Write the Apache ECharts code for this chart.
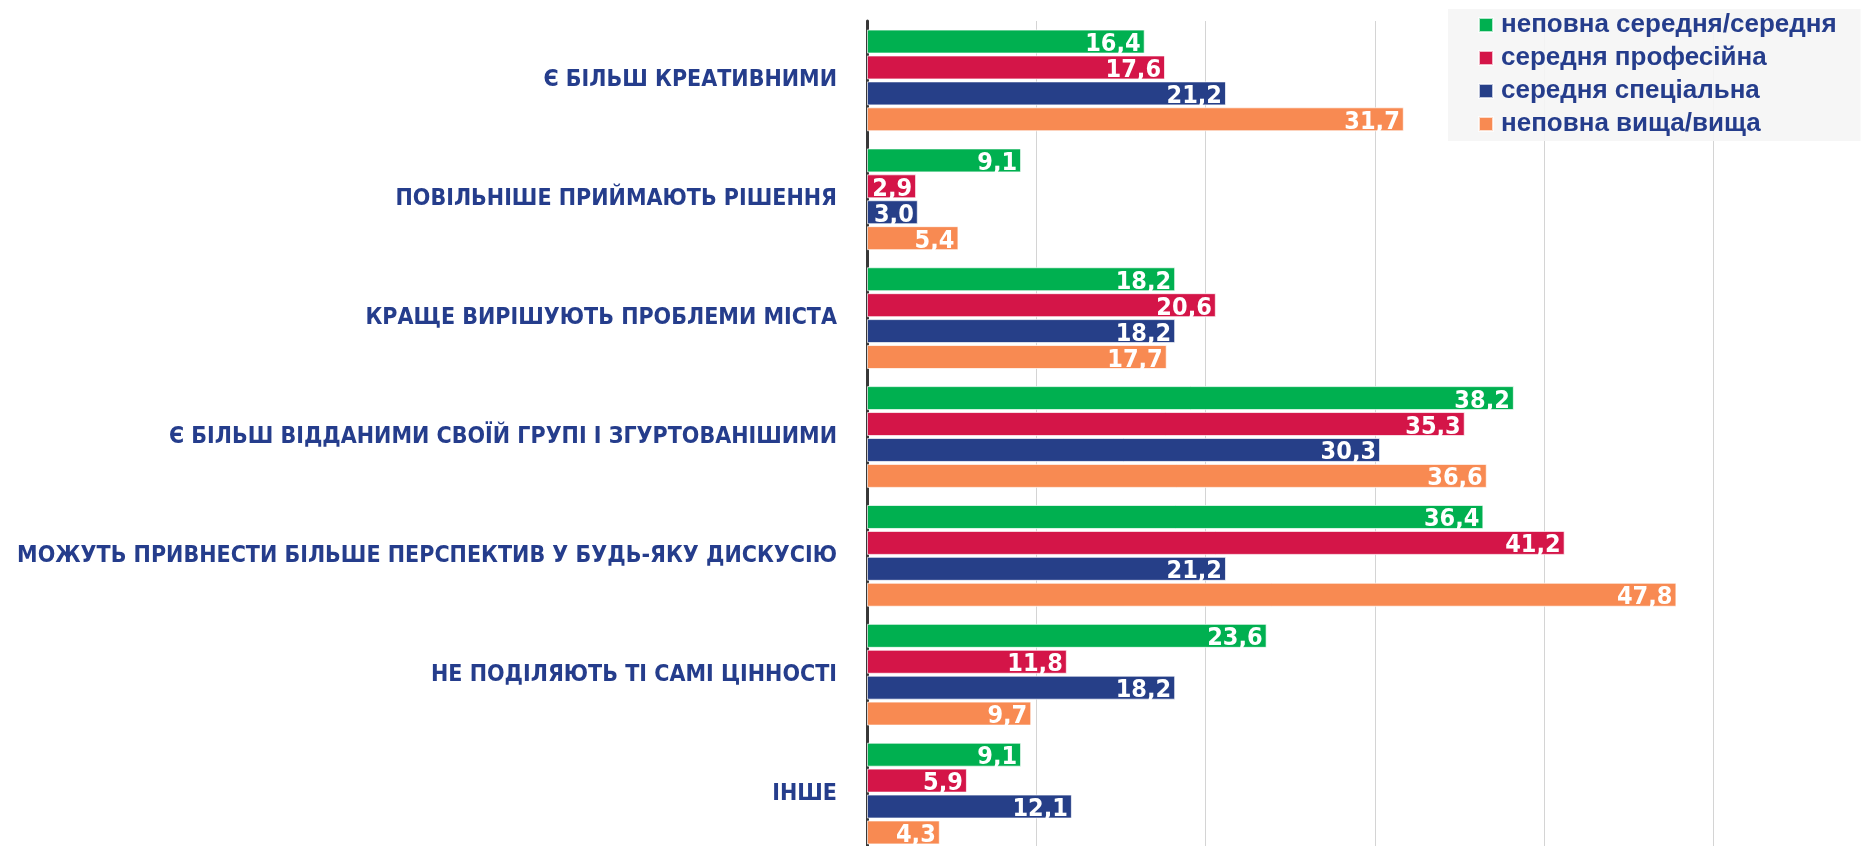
<!DOCTYPE html>
<html>
<head>
<meta charset="utf-8">
<script src="https://cdn.jsdelivr.net/npm/echarts@6/dist/echarts.min.js"></script>
<style>
  html, body { margin: 0; padding: 0; background: #fff; }
  #chart { width: 1864px; height: 846px; }
</style>
</head>
<body>
<div id="chart"></div>
<script>
// категорії (зверху вниз)
const categories = [
  'Є БІЛЬШ КРЕАТИВНИМИ',
  'ПОВІЛЬНІШЕ ПРИЙМАЮТЬ РІШЕННЯ',
  'КРАЩЕ ВИРІШУЮТЬ ПРОБЛЕМИ МІСТА',
  'Є БІЛЬШ ВІДДАНИМИ СВОЇЙ ГРУПІ І ЗГУРТОВАНІШИМИ',
  'МОЖУТЬ ПРИВНЕСТИ БІЛЬШЕ ПЕРСПЕКТИВ У БУДЬ-ЯКУ ДИСКУСІЮ',
  'НЕ ПОДІЛЯЮТЬ ТІ САМІ ЦІННОСТІ',
  'ІНШЕ'
];

const seriesNames = [
  'неповна середня/середня',
  'середня професійна',
  'середня спеціальна',
  'неповна вища/вища'
];

const incompleteSecondary = [16.4, 9.1, 18.2, 38.2, 36.4, 23.6, 9.1];
const vocational = [17.6, 2.9, 20.6, 35.3, 41.2, 11.8, 5.9];
const specialized = [21.2, 3.0, 18.2, 30.3, 21.2, 18.2, 12.1];
const higher = [31.7, 5.4, 17.7, 36.6, 47.8, 9.7, 4.3];

const colors = ['#00b050', '#d41548', '#263f88', '#f88a52'];

const narrow = "'Liberation Sans Narrow', 'DejaVu Sans Condensed', sans-serif";

const chart = echarts.init(document.getElementById('chart'));

function makeSeries(name, data, color) {
  return {
    name: name,
    type: 'bar',
    data: data,
    barWidth: 24,
    barGap: '8%',
    itemStyle: {
      color: color,
      borderColor: 'rgba(255,255,255,0.7)',
      borderWidth: 1
    },
    label: {
      show: true,
      position: 'insideRight',
      distance: 4,
      color: '#fff',
      fontFamily: narrow,
      fontWeight: 'bold',
      fontSize: 25,
      offset: [0, 3],
      formatter: p => p.value.toFixed(1).replace('.', ',')
    }
  };
}

const option = {
  backgroundColor: '#fff',
  animation: false,
  grid: {
    left: 867,
    right: -19,
    top: 21,
    bottom: -7,
    containLabel: false,
    outerBoundsMode: 'none'
  },
  legend: {
    orient: 'vertical',
    left: 1448,
    top: 9,
    padding: [3, 24, 4, 30],
    backgroundColor: 'rgba(245,245,245,0.9)',
    itemWidth: 14,
    itemHeight: 14,
    itemGap: 7,
    icon: 'rect',
    textStyle: {
      color: '#253d8c',
      fontFamily: "'Liberation Sans', Arial, sans-serif",
      fontWeight: 'bold',
      fontSize: 26,
      padding: [0, 0, 0, 3]
    },
    data: seriesNames
  },
  xAxis: {
    type: 'value',
    min: 0,
    max: 60,
    interval: 10,
    axisLabel: { show: false },
    axisLine: { show: false },
    axisTick: { show: false },
    splitLine: { lineStyle: { color: '#d4d4d4', width: 1 } }
  },
  yAxis: {
    type: 'category',
    inverse: true,
    data: categories,
    axisTick: { show: false },
    axisLine: { lineStyle: { color: '#383838', width: 3 } },
    axisLabel: {
      margin: 30,
      color: '#253d8c',
      fontFamily: narrow,
      fontWeight: 'bold',
      fontSize: 23
    }
  },
  series: [
    makeSeries(seriesNames[0], incompleteSecondary, colors[0]),
    makeSeries(seriesNames[1], vocational, colors[1]),
    makeSeries(seriesNames[2], specialized, colors[2]),
    makeSeries(seriesNames[3], higher, colors[3])
  ]
};

chart.setOption(option);
</script>
</body>
</html>
